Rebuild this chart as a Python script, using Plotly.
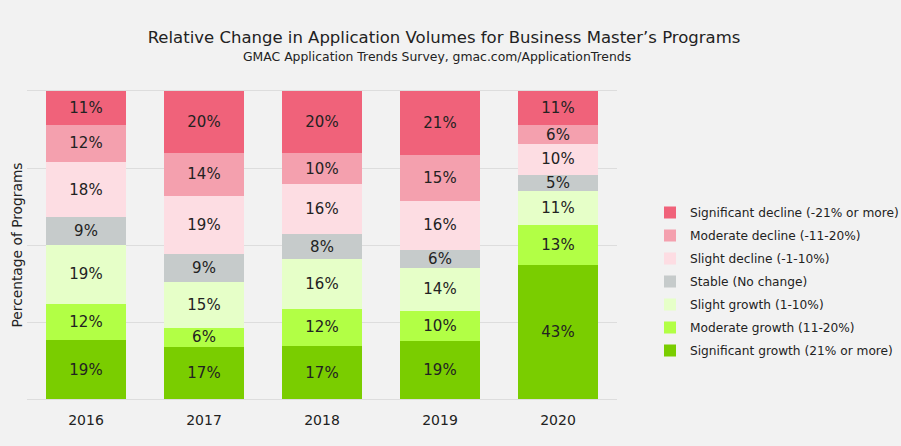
import plotly.graph_objects as go

years = ["2016", "2017", "2018", "2019", "2020"]
sig_growth = [19, 17, 17, 19, 43]
mod_growth = [12, 6, 12, 10, 13]
slight_growth = [19, 15, 16, 14, 11]
stable = [9, 9, 8, 6, 5]
slight_decline = [18, 19, 16, 16, 10]
mod_decline = [12, 14, 10, 15, 6]
sig_decline = [11, 20, 20, 21, 11]

series = [
    ("Significant growth (21% or more)", sig_growth, "#7ACD00"),
    ("Moderate growth (11-20%)", mod_growth, "#B2FF45"),
    ("Slight growth (1-10%)", slight_growth, "#E6FFC8"),
    ("Stable (No change)", stable, "#C6CBCB"),
    ("Slight decline (-1-10%)", slight_decline, "#FDDDE3"),
    ("Moderate decline (-11-20%)", mod_decline, "#F4A0AE"),
    ("Significant decline (-21% or more)", sig_decline, "#F0627A"),
]

font = "DejaVu Sans, sans-serif"
txt = "#222222"

fig = go.Figure()
for i, (name, vals, col) in enumerate(series):
    fig.add_trace(go.Bar(
        x=years, y=vals, name=name, legendgroup=name, legendrank=1000 - i,
        marker=dict(color=col, line=dict(width=0)),
        text=[f"{v}%" for v in vals], textposition="inside", insidetextanchor="middle",
        textfont=dict(size=15, color=txt, family=font),
        constraintext="none",
        hoverinfo="name+y",
    ))

fig.update_layout(
    barmode="stack", barnorm="percent", bargap=0.33,
    width=901, height=446,
    paper_bgcolor="#F2F2F2", plot_bgcolor="#F2F2F2",
    margin=dict(l=27, r=284, t=91, b=47, autoexpand=False),
    font=dict(family=font, color=txt),
    title=dict(
        text="Relative Change in Application Volumes for Business Master’s Programs",
        x=444 / 901, xanchor="center", y=1 - 37 / 446, yanchor="middle",
        font=dict(size=16.5, family=font, color=txt),
    ),
    annotations=[dict(
        text="GMAC Application Trends Survey, gmac.com/ApplicationTrends",
        xref="paper", yref="paper", x=(437 - 27) / 590, y=(399 - 57) / 308,
        xanchor="center", yanchor="middle", showarrow=False,
        font=dict(size=12.4, family=font, color=txt),
    )],
    legend=dict(
        x=(650 - 27) / 590, xanchor="left", y=(399 - 281.5) / 308, yanchor="middle",
        traceorder="grouped", font=dict(size=12.2, family=font, color=txt),
        bgcolor="rgba(0,0,0,0)", itemwidth=30, tracegroupgap=4,
    ),
)
fig.update_xaxes(showgrid=False, showline=True, mirror=True, linecolor="#DDDDDD", linewidth=1,
                 ticks="", ticklabelstandoff=8,
                 tickfont=dict(size=14, family=font, color=txt))
fig.update_yaxes(range=[0, 100], tickvals=[0, 25, 50, 75, 100], showticklabels=False,
                 gridcolor="#DDDDDD", gridwidth=1, zeroline=False,
                 title=dict(text="Percentage of Programs", font=dict(size=13.8, family=font, color=txt), standoff=0))

fig.write_html("out.html", config={"displayModeBar": False},
               post_script="document.body.style.margin='0';")
